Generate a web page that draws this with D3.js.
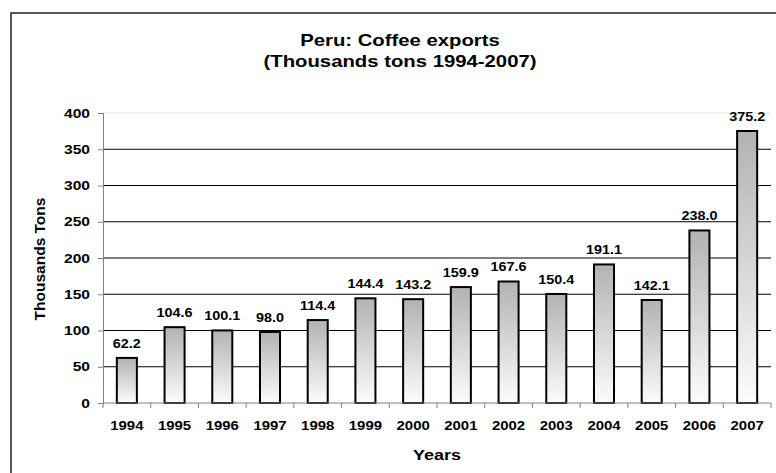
<!DOCTYPE html>
<html>
<head>
<meta charset="utf-8">
<script src="https://cdn.jsdelivr.net/npm/d3@7"></script>
<style>
  body { margin: 0; background: #fff; }
  text { font-family: "Liberation Sans", Arial, sans-serif; font-weight: bold; fill: #000; }
</style>
</head>
<body>
<div id="chart"></div>
<script>
// Data
const years = ["1994", "1995", "1996", "1997", "1998", "1999", "2000",
               "2001", "2002", "2003", "2004", "2005", "2006", "2007"];
const exports = [62.2, 104.6, 100.1, 98.0, 114.4, 144.4, 143.2,
                 159.9, 167.6, 150.4, 191.1, 142.1, 238.0, 375.2];
const yTicks = [0, 50, 100, 150, 200, 250, 300, 350, 400];

const width = 776, height = 473;
const margin = {top: 113, right: 5, bottom: 70, left: 103};
const innerW = width - margin.left - margin.right;
const innerH = height - margin.top - margin.bottom;

const svg = d3.select("#chart")
  .append("svg")
  .attr("width", width)
  .attr("height", height);

// the source picture has wide, horizontally stretched lettering
function wideText(parent, x, y, str, size, sx, anchor) {
  return parent.append("text")
    .attr("transform", `translate(${x},${y}) scale(${sx},1)`)
    .attr("text-anchor", anchor || "middle")
    .style("font-size", size + "px")
    .text(str);
}

// bar gradient
const grad = svg.append("defs").append("linearGradient")
  .attr("id", "barGrad")
  .attr("x1", 0).attr("y1", 0).attr("x2", 0).attr("y2", 1);
grad.append("stop").attr("offset", "0%").attr("stop-color", "#b2b2b2");
grad.append("stop").attr("offset", "100%").attr("stop-color", "#fcfcfc");

// chart frame (runs off the right and bottom edges)
svg.append("rect")
  .attr("x", 11).attr("y", 13)
  .attr("width", 800).attr("height", 500)
  .attr("fill", "none")
  .attr("stroke", "#222")
  .attr("stroke-width", 1.5);

// title
wideText(svg, 400, 46, "Peru: Coffee exports", 16, 1.27);
wideText(svg, 400, 67, "(Thousands tons 1994-2007)", 16, 1.27);

const g = svg.append("g")
  .attr("transform", `translate(${margin.left},${margin.top})`);

const x = d3.scaleBand()
  .domain(years)
  .range([0, innerW])
  .paddingInner(0.58)
  .paddingOuter(0.29);

const y = d3.scaleLinear()
  .domain([0, 400])
  .range([innerH, 0]);

// gridlines
g.selectAll(".grid")
  .data(yTicks.filter(d => d > 0))
  .enter()
  .append("line")
  .attr("x1", 0).attr("x2", innerW)
  .attr("y1", d => y(d)).attr("y2", d => y(d))
  .attr("stroke", d => d === 400 ? "#e4e4e4" : "#000")
  .attr("stroke-width", 1);

// y axis
const yAxis = g.append("g")
  .call(d3.axisLeft(y).tickValues(yTicks).tickSize(5).tickFormat(""));
yAxis.select(".domain").attr("stroke", "#808080");
yAxis.selectAll(".tick line").attr("stroke", "#808080");
yTicks.forEach(t => wideText(g, -13, y(t) + 4.5, String(t), 13, 1.2, "end"));

// bars
g.selectAll(".bar")
  .data(exports)
  .enter()
  .append("rect")
  .attr("class", "bar")
  .attr("x", (d, i) => x(years[i]))
  .attr("y", d => y(d))
  .attr("width", x.bandwidth())
  .attr("height", d => innerH - y(d))
  .attr("fill", "url(#barGrad)")
  .attr("stroke", "#000")
  .attr("stroke-width", 2);

// value labels
exports.forEach((d, i) =>
  wideText(g, x(years[i]) + x.bandwidth() / 2, y(d) - 10, d.toFixed(1), 12, 1.2));

// x axis
const step = x.step();
const xAxis = g.append("g").attr("transform", `translate(0,${innerH})`);
xAxis.append("line")
  .attr("x1", 0).attr("x2", innerW)
  .attr("stroke", "#808080");
xAxis.selectAll(".xt")
  .data(d3.range(years.length + 1))
  .enter()
  .append("line")
  .attr("x1", i => i * step).attr("x2", i => i * step)
  .attr("y1", 0).attr("y2", 5)
  .attr("stroke", "#808080");
years.forEach(yr =>
  wideText(xAxis, x(yr) + x.bandwidth() / 2, 27, yr, 13, 1.15));

// axis titles
wideText(svg, margin.left + innerW / 2, 460, "Years", 15, 1.2);

svg.append("text")
  .attr("transform", `translate(45,259) rotate(-90)`)
  .attr("text-anchor", "middle")
  .style("font-size", "15.5px")
  .text("Thousands Tons");
</script>
</body>
</html>
